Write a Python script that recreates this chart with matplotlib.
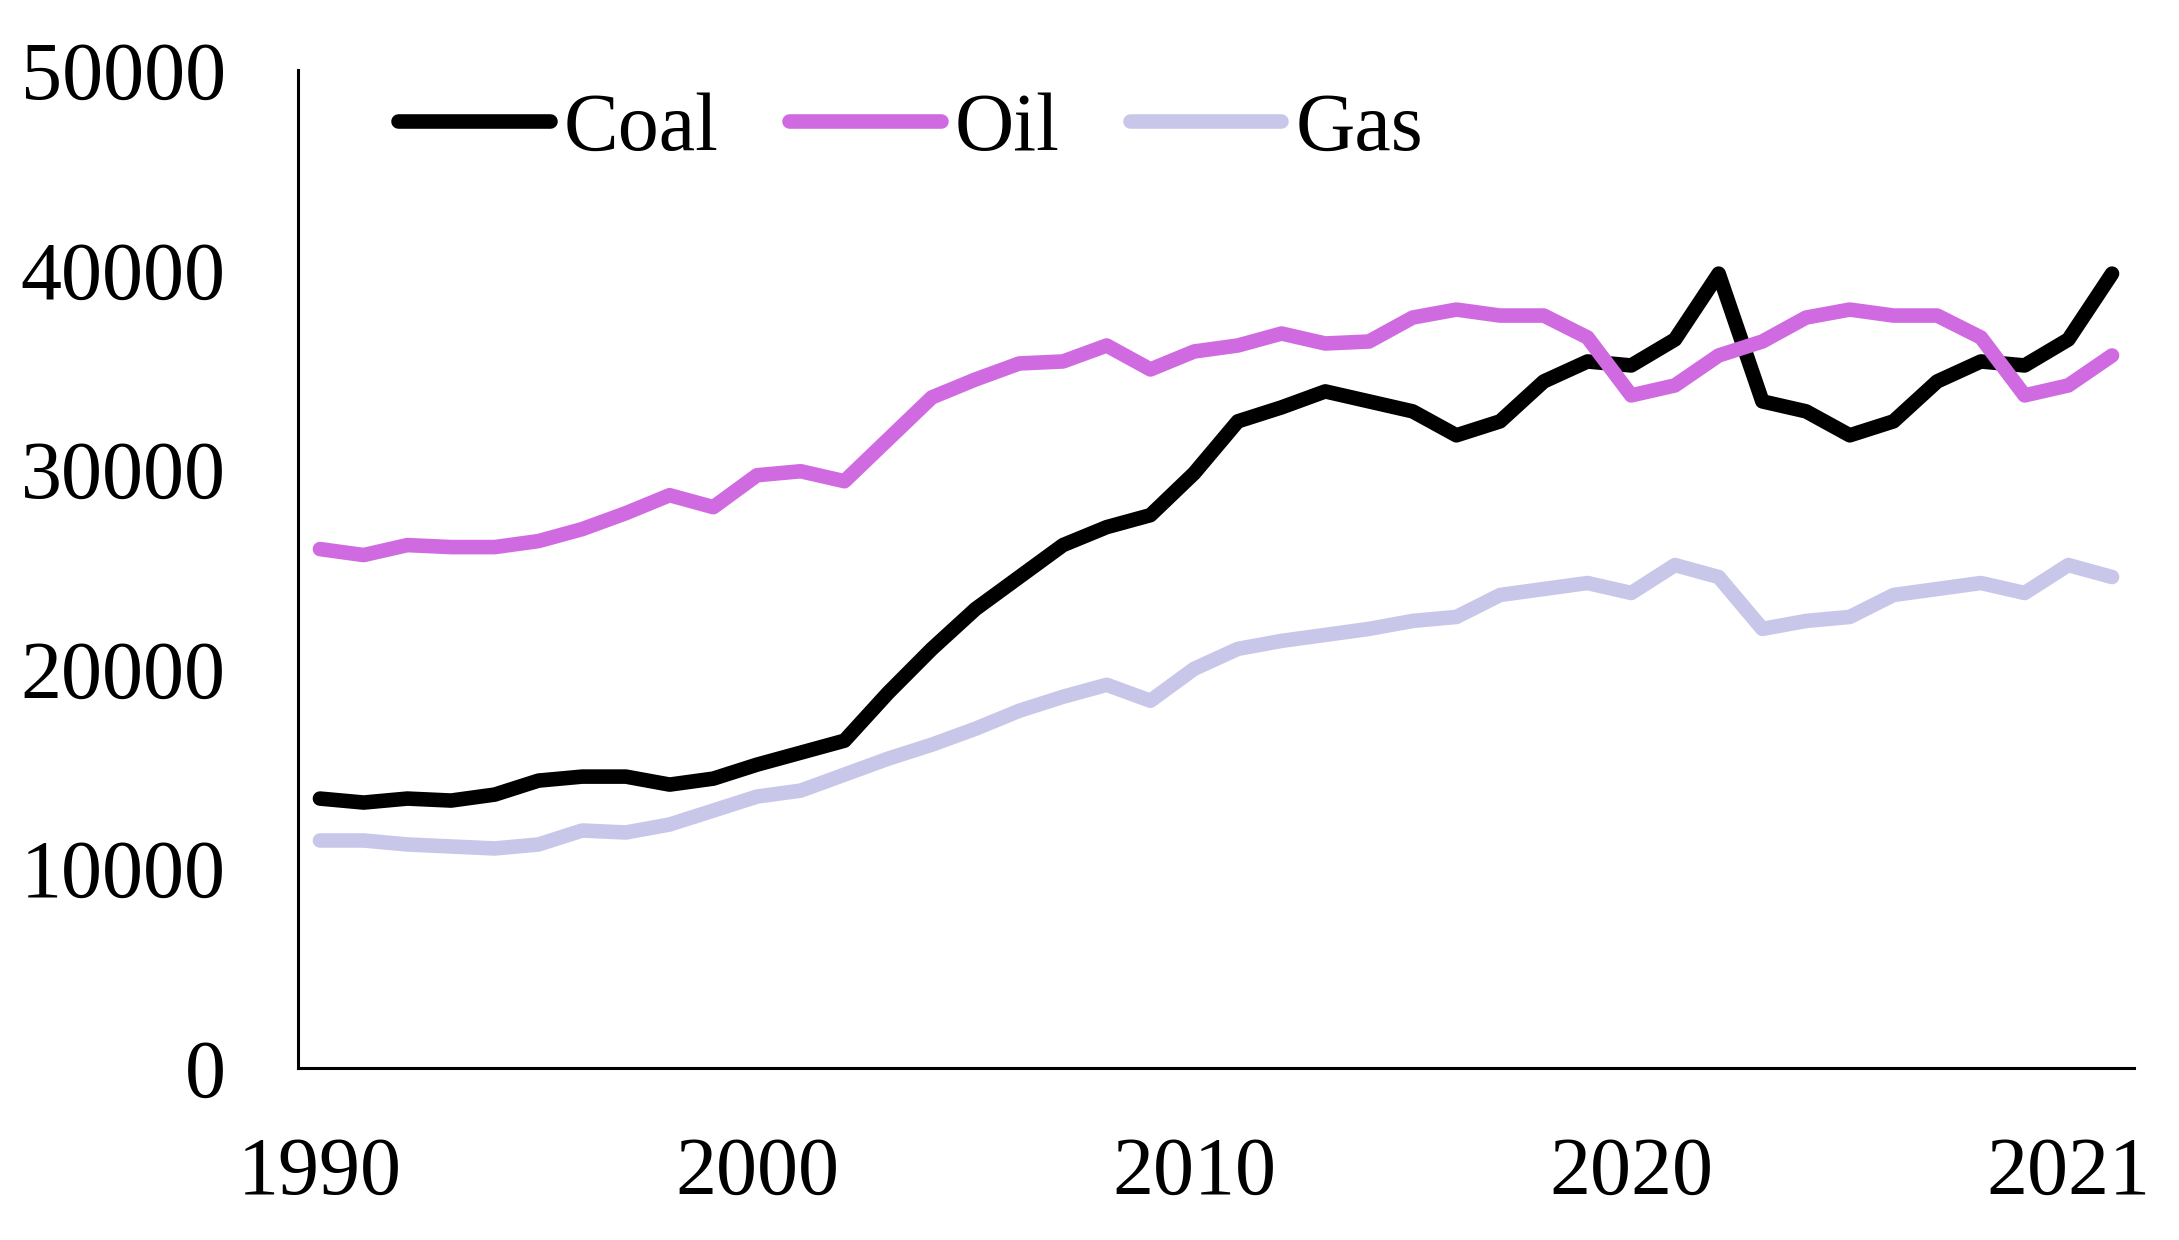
# ====================== #
# Coal / Oil / Gas line chart
# ====================== #

import matplotlib.pyplot as plt
import numpy as np

plt.rcParams["font.family"] = ["Liberation Serif", "DejaVu Serif"]

# tick labels shown on the category axis (every 10th category)
tick_idx = [0, 10, 20, 30, 40]
tick_labels = ["1990", "2000", "2010", "2020", "2021"]

coal = [13500, 13300, 13500, 13400, 13700, 14400, 14600, 14600, 14200, 14500,
        15200, 15800, 16400, 18800, 21000, 23000, 24600, 26200, 27100, 27700,
        29800, 32400, 33100, 33900, 33400, 32900, 31700, 32400, 34400, 35400,
        35200, 36500, 39800, 33400, 32900, 31700, 32400, 34400, 35400, 35200,
        36500, 39800]

oil = [26000, 25700, 26200, 26100, 26100, 26400, 27000, 27800, 28700, 28100,
       29700, 29900, 29400, 31500, 33600, 34500, 35300, 35400, 36200, 35000,
       35900, 36200, 36800, 36300, 36400, 37600, 38000, 37700, 37700, 36600,
       33700, 34200, 35700, 36400, 37600, 38000, 37700, 37700, 36600, 33700,
       34200, 35700]

gas = [11400, 11400, 11200, 11100, 11000, 11200, 11900, 11800, 12200, 12900,
       13600, 13900, 14700, 15500, 16200, 17000, 17900, 18600, 19200, 18400,
       20000, 21000, 21400, 21700, 22000, 22400, 22600, 23700, 24000, 24300,
       23800, 25200, 24600, 22000, 22400, 22600, 23700, 24000, 24300, 23800,
       25200, 24600]

x = np.arange(len(coal))

fig = plt.figure(figsize=(21.79, 12.40), dpi=100)
ax = fig.add_axes([0.1368, 0.1387, 0.9793 - 0.1368, 0.9435 - 0.1387])

style = dict(linewidth=10.5, solid_joinstyle="round", solid_capstyle="round")
ax.plot(x, coal, color="#000000", label="Coal", **style)
ax.plot(x, oil, color="#D06AE0", label="Oil", **style)
ax.plot(x, gas, color="#C9C7E9", label="Gas", **style)

ax.set_xlim(-0.5, len(coal) - 0.5)
ax.set_ylim(0, 50000)
ax.set_yticks(np.arange(0, 50001, 10000))
ax.set_xticks(tick_idx)
ax.set_xticklabels(tick_labels)

for s in ["top", "right"]:
    ax.spines[s].set_visible(False)
for s in ["left", "bottom"]:
    ax.spines[s].set_linewidth(2.2)
    ax.spines[s].set_color("black")

ax.tick_params(axis="y", length=0, pad=52, labelsize=59)
ax.tick_params(axis="x", length=0, pad=49, labelsize=59)

leg = ax.legend(loc="center left", bbox_to_anchor=(0.0545, 0.940), ncol=3,
                frameon=False, fontsize=59, handlelength=1.85,
                handletextpad=0.17, columnspacing=0.86,
                borderaxespad=0, borderpad=0)

fig.savefig("out.png", dpi=100)
